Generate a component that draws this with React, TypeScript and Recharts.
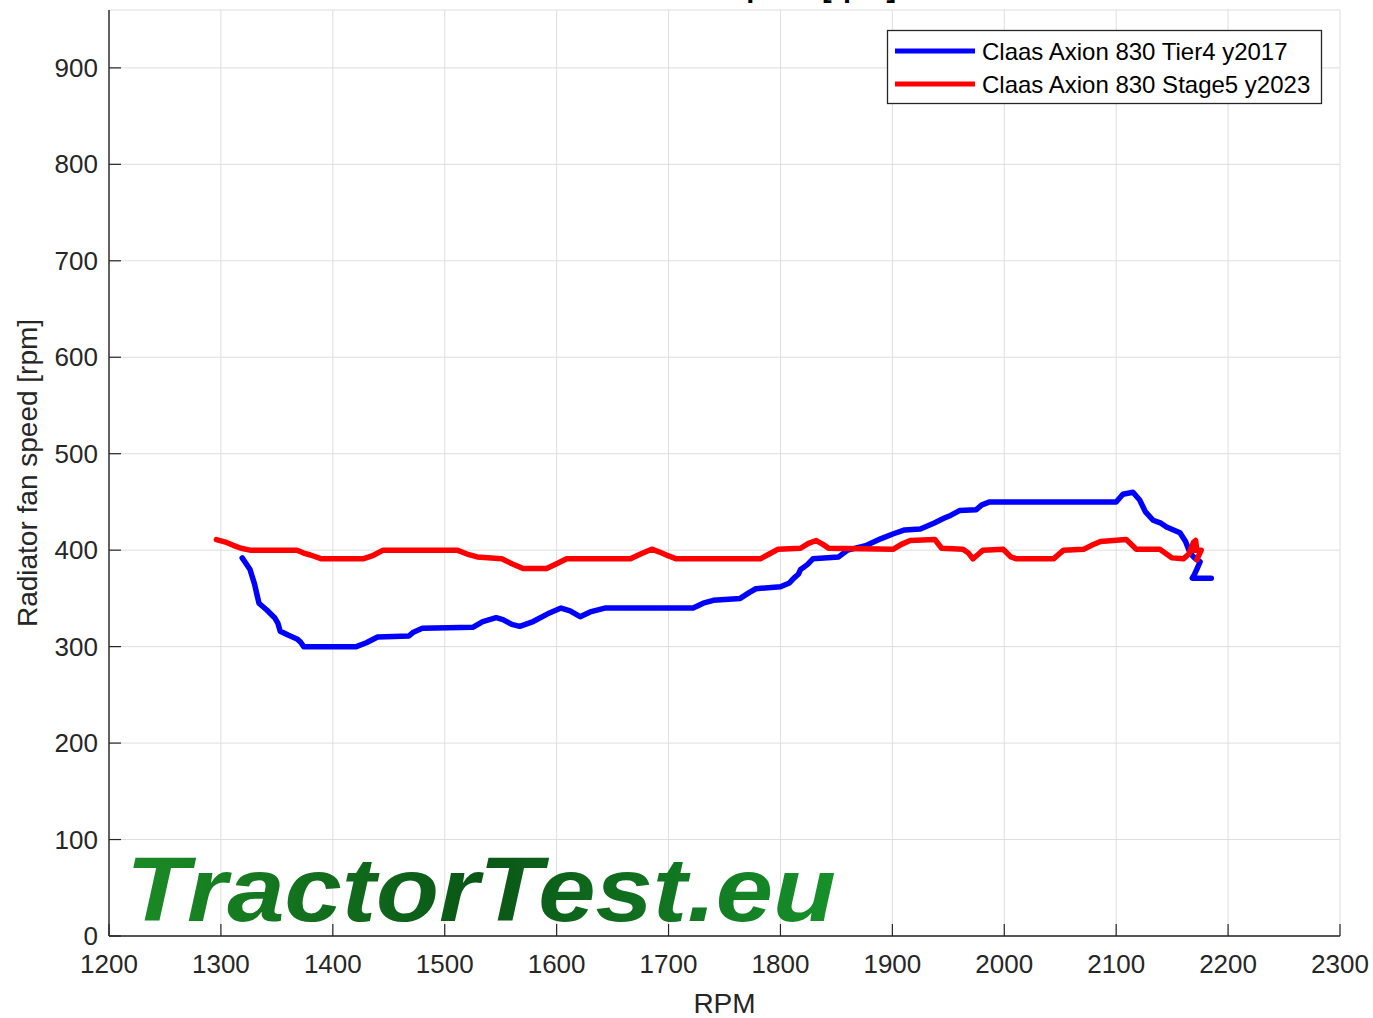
import React from "react";
import { CartesianGrid, Line, LineChart, XAxis, YAxis } from "recharts";

const FONT = "'Liberation Sans', Arial, Helvetica, sans-serif";
const AXIS = "#262626";

const X_TICKS = [1200, 1300, 1400, 1500, 1600, 1700, 1800, 1900, 2000, 2100, 2200, 2300];
const Y_TICKS = [0, 100, 200, 300, 400, 500, 600, 700, 800, 900];

// Claas Axion 830 Tier4 y2017
const tier4Rpm = [
  1319, 1322, 1326, 1330, 1334, 1341, 1348, 1351, 1353, 1360, 1368, 1371, 1374, 1421, 1430, 1440,
  1468, 1472, 1480, 1525, 1534, 1546, 1552, 1560, 1567, 1579, 1592, 1604, 1612, 1621, 1630, 1643,
  1722, 1731, 1740, 1764, 1772, 1778, 1800, 1808, 1812, 1816, 1818, 1824, 1829, 1852, 1860, 1877,
  1890, 1901, 1911, 1925, 1937, 1946, 1952, 1960, 1975, 1980, 1987, 2100, 2106, 2115, 2121, 2126,
  2133, 2140, 2145, 2157, 2162, 2166, 2170, 2175, 2172, 2170, 2168, 2185,
];
const tier4Fan = [
  392, 387, 380, 365, 345, 338, 330, 324, 316, 312, 308, 305, 300, 300, 304, 310,
  311, 315, 319, 320, 326, 330, 328, 323, 321, 326, 334, 340, 337, 331, 336, 340,
  340, 345, 348, 350, 356, 360, 362, 366, 371, 375, 380, 385, 391, 393, 400, 405,
  412, 417, 421, 422, 428, 433, 436, 441, 442, 447, 450, 450, 458, 460, 452, 440,
  431, 428, 424, 418, 409, 397, 392, 388, 380, 375, 371, 371,
];

// Claas Axion 830 Stage5 y2023
const stage5Rpm = [
  1296, 1305, 1311, 1318, 1326, 1368, 1374, 1380, 1390, 1427, 1435, 1445, 1511, 1520, 1529, 1551,
  1560, 1570, 1591, 1600, 1609, 1666, 1675, 1685, 1692, 1700, 1707, 1782, 1790, 1798, 1818, 1825,
  1832, 1838, 1843, 1901, 1908, 1916, 1938, 1944, 1963, 1968, 1972, 1976, 1981, 1999, 2006, 2011,
  2044, 2053, 2071, 2078, 2086, 2109, 2118, 2139, 2150, 2160, 2165, 2169, 2171, 2172, 2167, 2176,
  2172,
];
const stage5Fan = [
  411, 408, 405, 402, 400, 400, 397, 395, 391, 391, 394, 400, 400, 396, 393, 391,
  386, 381, 381, 386, 391, 391, 396, 401, 398, 394, 391, 391, 396, 401, 402, 407,
  410, 406, 402, 401, 406, 410, 411, 402, 401, 397, 391, 395, 400, 401, 393, 391,
  391, 400, 401, 405, 409, 411, 401, 401, 392, 391, 396, 408, 410, 400, 400, 400,
  390,
];

const tier4 = tier4Rpm.map((rpm, i) => ({ rpm, fan: tier4Fan[i] }));
const stage5 = stage5Rpm.map((rpm, i) => ({ rpm, fan: stage5Fan[i] }));

const BottomTick = ({ x, y, payload }: any) => (
  <g>
    <line x1={x} y1={y} x2={x} y2={y - 12} stroke={AXIS} strokeWidth={1.2} />
    <text x={x} y={y + 37} textAnchor="middle" fontSize={26} fill={AXIS} fontFamily={FONT}>
      {payload.value}
    </text>
  </g>
);

const TopTick = ({ x, y }: any) => (
  <line x1={x} y1={y} x2={x} y2={y + 12} stroke={AXIS} strokeWidth={1.2} />
);

const LeftTick = ({ x, y, payload }: any) => (
  <g>
    <line x1={x} y1={y} x2={x + 12} y2={y} stroke={AXIS} strokeWidth={1.2} />
    <text x={x - 11} y={y + 9} textAnchor="end" fontSize={26} fill={AXIS} fontFamily={FONT}>
      {payload.value}
    </text>
  </g>
);

const RightTick = ({ x, y }: any) => (
  <line x1={x} y1={y} x2={x - 12} y2={y} stroke={AXIS} strokeWidth={1.2} />
);

export default function App() {
  return (
    <div style={{ position: "absolute", left: 0, top: 0, width: 1373, height: 1018, background: "#fff" }}>
      <LineChart width={1373} height={1018} margin={{ top: 10, right: 33, bottom: 0, left: 0 }}>
        <CartesianGrid stroke="#dedede" strokeWidth={1} />
        <XAxis
          dataKey="rpm"
          type="number"
          domain={[1200, 2300]}
          ticks={X_TICKS}
          interval={0}
          allowDataOverflow
          height={82}
          tickSize={0}
          tickMargin={0}
          tick={<BottomTick />}
          stroke={AXIS}
          strokeWidth={1.4}
        />
        <XAxis
          xAxisId="top"
          orientation="top"
          type="number"
          domain={[1200, 2300]}
          ticks={X_TICKS}
          interval={0}
          allowDataOverflow
          height={0}
          tickSize={0}
          tickMargin={0}
          tick={<TopTick />}
          stroke={AXIS}
          strokeWidth={1.4}
        />
        <YAxis
          type="number"
          domain={[0, 960]}
          ticks={Y_TICKS}
          interval={0}
          allowDataOverflow
          width={109}
          tickSize={0}
          tickMargin={0}
          tick={<LeftTick />}
          stroke={AXIS}
          strokeWidth={1.4}
        />
        <YAxis
          yAxisId="right"
          orientation="right"
          type="number"
          domain={[0, 960]}
          ticks={Y_TICKS}
          interval={0}
          allowDataOverflow
          width={0}
          tickSize={0}
          tickMargin={0}
          tick={<RightTick />}
          stroke={AXIS}
          strokeWidth={1.4}
        />
        <Line
          data={tier4}
          dataKey="fan"
          type="linear"
          stroke="#0000ff"
          strokeWidth={5.5}
          strokeLinejoin="round"
          strokeLinecap="round"
          dot={false}
          isAnimationActive={false}
        />
        <Line
          data={stage5}
          dataKey="fan"
          type="linear"
          stroke="#ff0000"
          strokeWidth={5.5}
          strokeLinejoin="round"
          strokeLinecap="round"
          dot={false}
          isAnimationActive={false}
        />
      </LineChart>

      <svg
        width={1373}
        height={1018}
        style={{ position: "absolute", left: 0, top: 0, pointerEvents: "none" }}
        fontFamily={FONT}
      >
        <defs>
          <linearGradient id="wm" x1="0" y1="0" x2="1" y2="0">
            <stop offset="0%" stopColor="#1b8c25" />
            <stop offset="50%" stopColor="#0a5616" />
            <stop offset="100%" stopColor="#17912a" />
          </linearGradient>
        </defs>
        <text x={724.5} y={-3} textAnchor="middle" fontSize={29} fontWeight="bold" fill="#000">
          Radiator fan speed [rpm]
        </text>
        <text x={724.5} y={1013} textAnchor="middle" fontSize={28} fill={AXIS}>
          RPM
        </text>
        <text
          transform="translate(37,473) rotate(-90)"
          textAnchor="middle"
          fontSize={28}
          fill={AXIS}
        >
          Radiator fan speed [rpm]
        </text>
        <text
          x={126}
          y={921}
          fontSize={90}
          fontWeight={900}
          fontStyle="italic"
          textLength={710}
          lengthAdjust="spacingAndGlyphs"
          fill="url(#wm)"
        >
          TractorTest.eu
        </text>
        <rect x={887.5} y={30.5} width={434} height={73} fill="#fff" stroke={AXIS} strokeWidth={1.3} />
        <line x1={895} y1={51} x2={975} y2={51} stroke="#0000ff" strokeWidth={5} />
        <text x={982} y={60} fontSize={24} fill="#000">
          Claas Axion 830 Tier4 y2017
        </text>
        <line x1={895} y1={84} x2={975} y2={84} stroke="#ff0000" strokeWidth={5} />
        <text x={982} y={93} fontSize={24} fill="#000">
          Claas Axion 830 Stage5 y2023
        </text>
      </svg>
    </div>
  );
}
